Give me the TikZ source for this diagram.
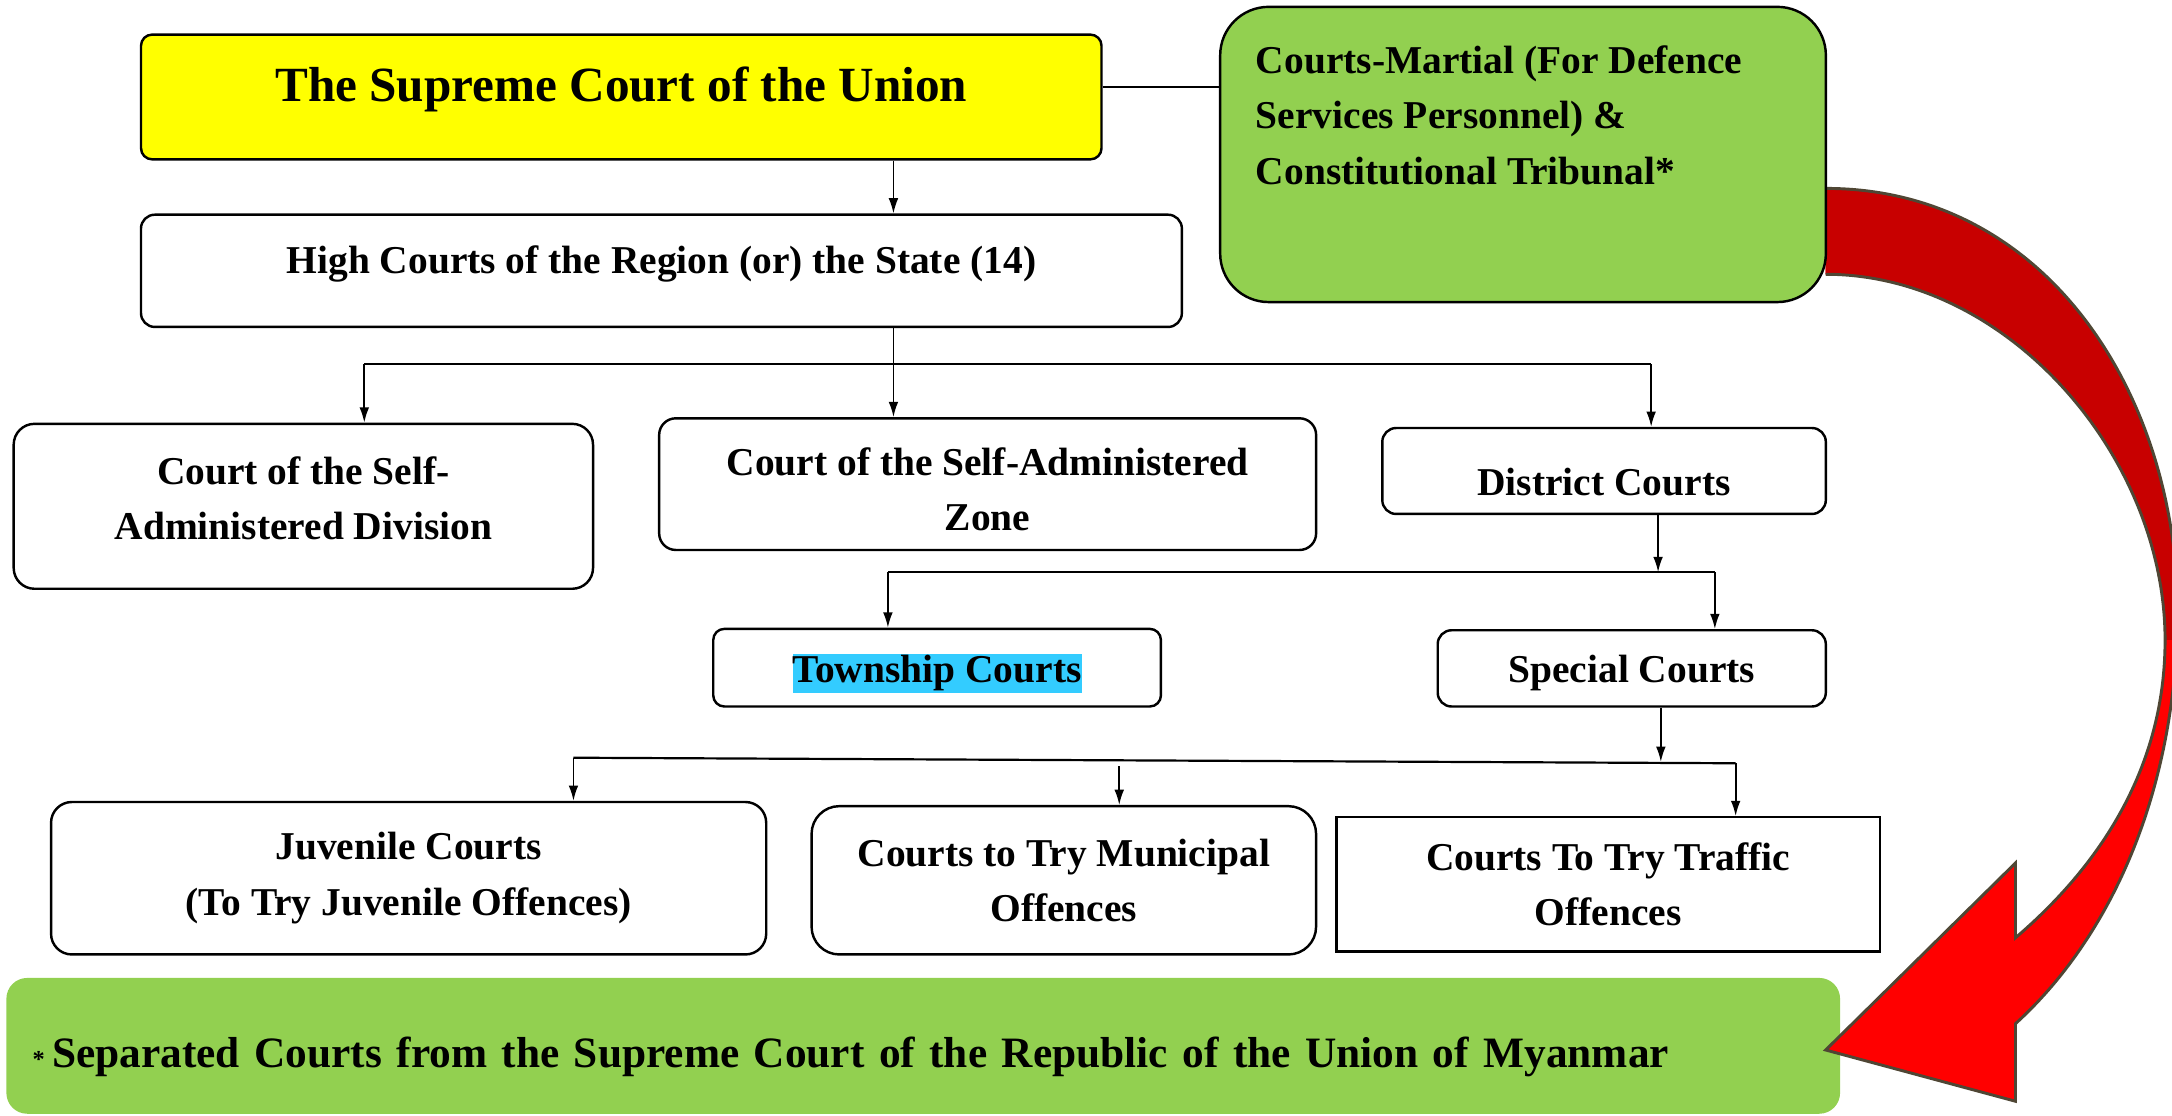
\documentclass[tikz,border=0pt]{standalone}
\usepackage{fontspec}
\setmainfont{Liberation Serif}
\usepackage{tikz}
\usetikzlibrary{arrows.meta,calc}
\definecolor{supremeyellow}{HTML}{FFFF00}
\definecolor{tribunalgreen}{HTML}{92D050}
\definecolor{hlcyan}{HTML}{33CCFF}
\definecolor{bendred}{HTML}{FF0000}
\definecolor{benddark}{HTML}{C80000}
\definecolor{bendline}{HTML}{4F4634}
\tikzstyle{courtbox}=[draw, line width=0.5pt, fill=white, align=center, inner sep=0pt, font=\bfseries\fontsize{8.1}{11.4}\selectfont]
\tikzstyle{link}=[line width=0.45pt]
\tikzstyle{arr}=[line width=0.35pt, -{Latex[length=1.1mm,width=0.7mm]}]
\newcommand{\hlight}[1]{{\setlength{\fboxsep}{0pt}\colorbox{hlcyan}{\rule[-0.26em]{0pt}{1em}#1}}}
\newcommand{\bendpath}{(1318,198) .. controls (1450,198) and (1563,330) .. (1563,462) .. controls (1563,560) and (1510,630) .. (1455,677) -- (1455,623) -- (1318,758) -- (1455,795) -- (1455,739) .. controls (1520,680) and (1569,580) .. (1572,450) .. controls (1575,290) and (1480,136) .. (1318,136)}

\begin{document}
\begin{tikzpicture}[x=0.01cm, y=-0.01cm]
	\useasboundingbox (0,0) rectangle (1568,805);
	\clip (0,0) rectangle (1568,805);
	% top level
	\node[courtbox, fill=supremeyellow, rounded corners=0.08cm, minimum width=6.93cm, minimum height=0.9cm, text height=7pt, text depth=5pt, font=\bfseries\fontsize{10.1}{12}\selectfont] (supreme) at (448.5,70) {The Supreme Court of the Union};
	\node[courtbox, rounded corners=0.1cm, minimum width=7.51cm, minimum height=0.81cm, text height=5.6pt, text depth=4.6pt] (high) at (477.5,195.5) {High Courts of the Region (or) the State (14)};
	% second level
	\node[courtbox, rounded corners=0.15cm, minimum width=4.18cm, minimum height=1.19cm] (division) at (219,365.5) {Court of the Self-\\Administered Division\rule[-3.4pt]{0pt}{0pt}};
	\node[courtbox, rounded corners=0.12cm, minimum width=4.74cm, minimum height=0.95cm] (zone) at (713,349.5) {\rule{0pt}{7.9pt}Court of the Self-Administered\\Zone};
	\node[courtbox, rounded corners=0.1cm, minimum width=3.2cm, minimum height=0.62cm, text height=10pt, text depth=0pt] (district) at (1158,340) {District Courts};
	% third level
	\node[courtbox, rounded corners=0.08cm, minimum width=3.23cm, minimum height=0.56cm, text height=8.3pt, text depth=2.1pt] (township) at (676.5,482) {\hlight{Township Courts}};
	\node[courtbox, rounded corners=0.1cm, minimum width=2.8cm, minimum height=0.55cm, text height=7.8pt, text depth=1.8pt] (special) at (1178,482.5) {Special Courts};
	% fourth level
	\node[courtbox, rounded corners=0.15cm, minimum width=5.16cm, minimum height=1.1cm] (juvenile) at (295,634) {Juvenile Courts\\(To Try Juvenile Offences)};
	\node[courtbox, rounded corners=0.2cm, minimum width=3.64cm, minimum height=1.07cm] (municipal) at (768,635.5) {Courts to Try Municipal\\Offences};
	\node[courtbox, minimum width=3.92cm, minimum height=0.97cm] (traffic) at (1161,638.5) {Courts To Try Traffic\\Offences};
	% footnote
	\node[courtbox, draw=none, fill=tribunalgreen, rounded corners=0.15cm, minimum width=13.23cm, minimum height=0.98cm, text width=12.85cm, align=left, text height=10.7pt, text depth=2pt, font=\bfseries\fontsize{8.9}{11}\selectfont] (separated) at (666.5,755) {{\fontsize{5}{6}\selectfont *}\kern1.5pt Separated Courts from the Supreme Court of the Republic of the Union of Myanmar};
	% bent arrow
	\begin{scope}
		\fill[bendred] \bendpath;
		\clip (1300,0) rectangle (1600,462);
		\fill[benddark] \bendpath;
	\end{scope}
	\draw[bendline, line width=0.6pt] \bendpath;
	% tribunal
	\node[courtbox, fill=tribunalgreen, rounded corners=0.35cm, minimum width=4.37cm, minimum height=2.13cm] (martial) at (1099.5,111.5) {};
	\node[anchor=north west, inner sep=0pt, align=left, font=\bfseries\fontsize{8.1}{11.4}\selectfont] (martialtext) at ([xshift=0.26cm, yshift=-0.28cm]martial.north west) {Courts-Martial (For Defence\\Services Personnel) \&\\Constitutional Tribunal*};
	% connectors
	\coordinate (spine) at (645,0);
	\draw[link] ([yshift=0.07cm]supreme.east) -- ([yshift=0.07cm]supreme.east -| martial.west);
	\draw[arr] (supreme.south -| spine) -- (high.north -| spine);
	\draw[arr] (high.south -| spine) -- (zone.north -| spine);
	\coordinate (b1w) at (263,263);
	\coordinate (b1e) at (1192,263);
	\draw[link] (b1w) -- (b1e);
	\draw[arr] (b1w) -- (b1w |- division.north);
	\draw[arr] (b1e) -- (b1e |- district.north);
	\coordinate (b2w) at (641,413);
	\coordinate (b2e) at (1238,413);
	\coordinate (b2in) at (1197,413);
	\draw[arr] (b2in |- district.south) -- (b2in);
	\draw[link] (b2w) -- (b2e);
	\draw[arr] (b2w) -- (b2w |- township.north);
	\draw[arr] (b2e) -- (b2e |- special.north);
	\coordinate (b3w) at (414,547);
	\coordinate (b3e) at (1253,551);
	\coordinate (b3in) at (1199,550);
	\coordinate (b3mid) at (808,553);
	\draw[arr] (b3in |- special.south) -- (b3in);
	\draw[link] (b3w) -- (b3e);
	\draw[arr] (b3w) -- (b3w |- juvenile.north);
	\draw[arr] (b3mid) -- (b3mid |- municipal.north);
	\draw[arr] (b3e) -- (b3e |- traffic.north);
\end{tikzpicture}
\end{document}
